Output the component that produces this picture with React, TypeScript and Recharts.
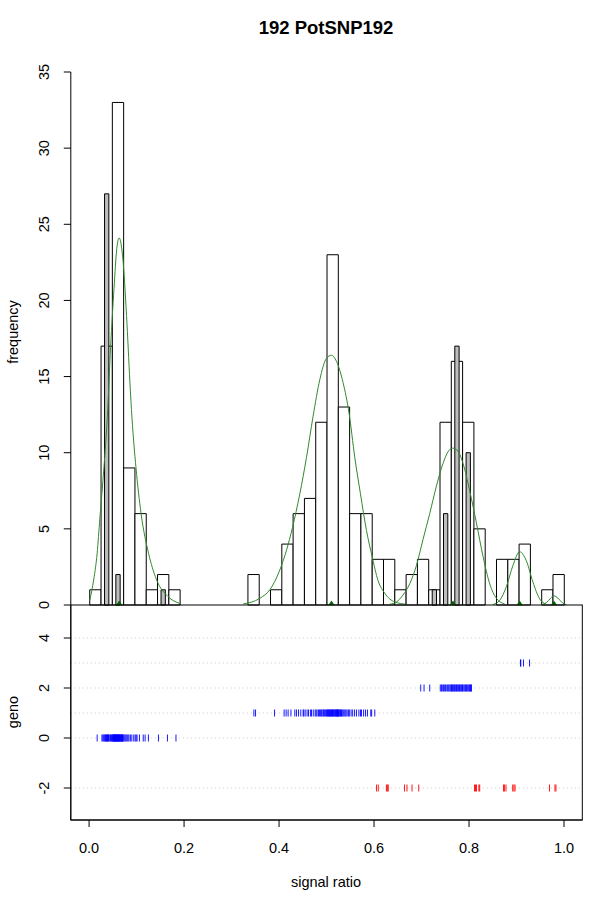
import React from "react";
import {
  ComposedChart,
  ScatterChart,
  Line,
  Scatter,
  XAxis,
  YAxis,
  ReferenceArea,
  ReferenceLine,
} from "recharts";

const FONT = "'Liberation Sans', Arial, Helvetica, sans-serif";

// histogram bins (signal ratio)
const BIN_ORIGIN = 0.0014;
const BIN_WIDTH = 0.02379;
const allCounts = [
  1, 17, 33, 9, 6, 1, 2, 1, 0, 0, 0, 0, 0, 0, 2, 0, 1, 4, 6, 7, 12, 23, 13, 6, 6, 3, 3, 1, 2, 3, 1, 12, 16,
  12, 5, 0, 3, 3, 4, 0, 1, 2,
];
const grayCounts = [
  0, 27, 2, 0, 0, 0, 1, 0, 0, 0, 0, 0, 0, 0, 0, 0, 0, 0, 0, 0, 0, 0, 0, 0, 0, 0, 0, 0, 0, 0, 1, 6, 17, 10,
  0, 0, 0, 0, 0, 0, 0, 0,
];

// fitted mixture components
const curveAX = [0.0014, 0.0099, 0.017, 0.0227, 0.0312, 0.0383, 0.0454, 0.0525, 0.0583, 0.0633, 0.0703, 0.0789, 0.086, 0.0903, 0.0988, 0.1095, 0.1252, 0.1415, 0.1664, 0.1912];
const curveAY = [0.3, 1.7, 3.4, 5.7, 9.0, 12.3, 17.0, 20.8, 23.4, 24.1, 23.0, 19.0, 14.6, 12.3, 9.0, 6.0, 3.4, 1.7, 0.55, 0.1];
const curveBX = [0.3245, 0.3596, 0.3806, 0.4016, 0.4157, 0.4284, 0.4437, 0.4578, 0.4717, 0.4858, 0.4999, 0.5104, 0.5209, 0.5348, 0.5474, 0.5594, 0.5714, 0.584, 0.5958, 0.6085, 0.6226, 0.6436, 0.6682];
const curveBY = [0.07, 0.44, 1.0, 2.3, 3.6, 5.1, 7.3, 9.7, 12.4, 14.8, 16.2, 16.4, 16.0, 14.6, 12.6, 9.7, 7.3, 4.9, 3.2, 1.6, 0.77, 0.2, 0.05];
const curveCX = [0.633, 0.6472, 0.6611, 0.6752, 0.6893, 0.7031, 0.7172, 0.7313, 0.7452, 0.7593, 0.7663, 0.7768, 0.7873, 0.8014, 0.8155, 0.8294, 0.8435, 0.8576, 0.875];
const curveCY = [0.05, 0.2, 0.66, 1.4, 2.6, 4.3, 6.0, 7.8, 9.3, 10.2, 10.3, 10.1, 9.3, 7.5, 5.4, 3.2, 1.4, 0.44, 0.07];
const curveDX = [0.8504, 0.8645, 0.8786, 0.8925, 0.9066, 0.9207, 0.9346, 0.9487, 0.9628];
const curveDY = [0.03, 0.3, 1.2, 2.6, 3.5, 2.9, 1.5, 0.4, 0.05];
const curveEX = [0.9522, 0.9628, 0.9718, 0.9788, 0.9872, 0.9964, 1.0048];
const curveEY = [0.02, 0.15, 0.45, 0.6, 0.45, 0.15, 0.02];
const componentMeans = [0.0633, 0.5104, 0.7663, 0.9066, 0.9788];

// genotype assignments (signal ratio per sample)
const geno0 = [
  0.017, 0.027, 0.029, 0.031, 0.032, 0.034, 0.035, 0.036, 0.037, 0.038, 0.039, 0.04, 0.041, 0.042, 0.044,
  0.045, 0.047, 0.048, 0.0495, 0.05, 0.051, 0.0515, 0.052, 0.053, 0.0535, 0.054, 0.055, 0.0555, 0.056,
  0.057, 0.0575, 0.058, 0.059, 0.0595, 0.06, 0.061, 0.0615, 0.062, 0.063, 0.064, 0.0645, 0.065, 0.066,
  0.067, 0.0675, 0.068, 0.069, 0.07, 0.0705, 0.071, 0.072, 0.074, 0.076, 0.078, 0.08, 0.082, 0.084, 0.087,
  0.09, 0.094, 0.097, 0.099, 0.101, 0.106, 0.114, 0.118, 0.125, 0.146, 0.165, 0.183,
];
const geno1 = [
  0.347, 0.3505, 0.3905, 0.4107, 0.4149, 0.4191, 0.425, 0.4332, 0.4368, 0.441, 0.4458, 0.4507, 0.452,
  0.455, 0.459, 0.462, 0.466, 0.4683, 0.472, 0.476, 0.478, 0.48, 0.483, 0.485, 0.487, 0.489, 0.4905,
  0.4928, 0.494, 0.496, 0.498, 0.5, 0.5015, 0.5025, 0.5035, 0.5045, 0.506, 0.507, 0.508, 0.509, 0.5105,
  0.5115, 0.5125, 0.514, 0.515, 0.516, 0.5175, 0.5185, 0.5195, 0.521, 0.522, 0.5225, 0.5235, 0.5242,
  0.5247, 0.526, 0.5275, 0.529, 0.53, 0.5315, 0.533, 0.535, 0.537, 0.539, 0.541, 0.5433, 0.546, 0.548,
  0.5517, 0.555, 0.559, 0.563, 0.568, 0.5714, 0.5735, 0.578, 0.582, 0.5861, 0.5931, 0.595, 0.6015,
];
const geno2 = [
  0.6983, 0.7053, 0.7172, 0.7395, 0.7418, 0.7436, 0.7461, 0.7479, 0.7502, 0.7518, 0.7544, 0.7563, 0.7581,
  0.7604, 0.7622, 0.7633, 0.7648, 0.7661, 0.7679, 0.7692, 0.7707, 0.7724, 0.7738, 0.7751, 0.7769, 0.7784,
  0.7798, 0.7815, 0.7832, 0.7847, 0.7861, 0.7872, 0.7893, 0.7911, 0.7928, 0.7946, 0.7962, 0.7981, 0.7998,
  0.8013, 0.8029, 0.8041, 0.805,
];
const geno3 = [0.9083, 0.909, 0.9146, 0.9274];
const genoUnassigned = [
  0.6053, 0.6089, 0.626, 0.628, 0.63, 0.6642, 0.6693, 0.68, 0.6941, 0.8115, 0.8136, 0.8157, 0.8207,
  0.8225, 0.8727, 0.8745, 0.8778, 0.8919, 0.8945, 0.8969, 0.9695, 0.9809, 0.983,
];

const freqTicks = [0, 5, 10, 15, 20, 25, 30, 35];
const genoTicks = [-2, 0, 2, 4];
const genoGridRows = [4, 3, 2, 1, 0, -2];
const ratioTicks = [0, 0.2, 0.4, 0.6, 0.8, 1.0];

const X_DOMAIN: [number, number] = [-0.0385, 1.0385];

const toPts = (xs: number[], ys: number[]) => xs.map((x, i) => ({ x, y: ys[i] }));
const curves = [
  toPts(curveAX, curveAY),
  toPts(curveBX, curveBY),
  toPts(curveCX, curveCY),
  toPts(curveDX, curveDY),
  toPts(curveEX, curveEY),
];

function RotTick(props: any) {
  const { x, y, payload } = props;
  const tx = x - 13;
  return (
    <text
      x={tx}
      y={y}
      transform={`rotate(-90 ${tx} ${y})`}
      textAnchor="middle"
      fontSize={14.5}
      fontFamily={FONT}
      fill="#000"
    >
      {String(payload.value)}
    </text>
  );
}

function Tri(props: any) {
  const { cx, cy } = props;
  return <polygon points={`${cx - 3},${cy} ${cx + 3},${cy} ${cx},${cy - 4.5}`} fill="#006400" />;
}

const makeTick = (color: string) => (props: any) => {
  const { cx, cy } = props;
  return <line x1={cx} x2={cx} y1={cy - 3.5} y2={cy + 3.5} stroke={color} strokeWidth={0.9} />;
};
const BlueTick = makeTick("#0000ff");
const RedTick = makeTick("#ff0000");

export default function App() {
  const grayFrac = 0.38;
  return (
    <div style={{ position: "absolute", left: 0, top: 0, width: 600, height: 909, background: "#fff" }}>
      <div style={{ position: "absolute", left: 0, top: 605 }}>
        <ScatterChart width={600} height={304} margin={{ top: 0, right: 17.7, bottom: 0, left: 10.8 }}>
          <XAxis
            type="number"
            dataKey="x"
            domain={X_DOMAIN}
            allowDataOverflow
            ticks={ratioTicks}
            interval={0}
            height={89}
            tickSize={7}
            tickMargin={16}
            tickFormatter={(v: number) => v.toFixed(1)}
            axisLine={{ stroke: "#000" }}
            tickLine={{ stroke: "#000" }}
            tick={{ fontSize: 14.5, fontFamily: FONT, fill: "#000" }}
          />
          <YAxis
            type="number"
            dataKey="y"
            domain={[-3.28, 5.32]}
            allowDataOverflow
            ticks={genoTicks}
            interval={0}
            width={60}
            tickSize={7}
            axisLine={{ stroke: "#000" }}
            tickLine={{ stroke: "#000" }}
            tick={<RotTick />}
          />
          {genoGridRows.map((r) => (
            <ReferenceLine key={r} y={r} stroke="#c8c8c8" strokeDasharray="1 3" />
          ))}
          <Scatter data={geno0.map((x) => ({ x, y: 0 }))} shape={BlueTick} isAnimationActive={false} />
          <Scatter data={geno1.map((x) => ({ x, y: 1 }))} shape={BlueTick} isAnimationActive={false} />
          <Scatter data={geno2.map((x) => ({ x, y: 2 }))} shape={BlueTick} isAnimationActive={false} />
          <Scatter data={geno3.map((x) => ({ x, y: 3 }))} shape={BlueTick} isAnimationActive={false} />
          <Scatter data={genoUnassigned.map((x) => ({ x, y: -2 }))} shape={RedTick} isAnimationActive={false} />
        </ScatterChart>
      </div>
      <div style={{ position: "absolute", left: 0, top: 0 }}>
        <ComposedChart width={600} height={625} margin={{ top: 72, right: 17.7, bottom: 20, left: 10.8 }}>
          <XAxis type="number" dataKey="x" domain={X_DOMAIN} allowDataOverflow hide />
          <YAxis
            type="number"
            dataKey="y"
            domain={[0, 35]}
            ticks={freqTicks}
            interval={0}
            width={60}
            tickSize={7}
            allowDataOverflow
            axisLine={{ stroke: "#000" }}
            tickLine={{ stroke: "#000" }}
            tick={<RotTick />}
          />
          {allCounts.map((c, i) =>
            c > 0 ? (
              <ReferenceArea
                key={`w${i}`}
                x1={BIN_ORIGIN + i * BIN_WIDTH}
                x2={BIN_ORIGIN + (i + 1) * BIN_WIDTH}
                y1={0}
                y2={c}
                fill="#fff"
                fillOpacity={1}
                stroke="#000"
                strokeWidth={1}
              />
            ) : null
          )}
          {grayCounts.map((c, i) =>
            c > 0 ? (
              <ReferenceArea
                key={`g${i}`}
                x1={BIN_ORIGIN + (i + 0.5 - grayFrac / 2) * BIN_WIDTH}
                x2={BIN_ORIGIN + (i + 0.5 + grayFrac / 2) * BIN_WIDTH}
                y1={0}
                y2={c}
                fill="#bebebe"
                fillOpacity={1}
                stroke="#000"
                strokeWidth={1}
              />
            ) : null
          )}
          {curves.map((pts, i) => (
            <Line
              key={`c${i}`}
              data={pts}
              dataKey="y"
              type="monotone"
              dot={false}
              stroke="#2f8a2f"
              strokeWidth={1}
              isAnimationActive={false}
            />
          ))}
          <Scatter
            data={componentMeans.map((x) => ({ x, y: 0 }))}
            dataKey="y"
            shape={<Tri />}
            isAnimationActive={false}
          />
        </ComposedChart>
      </div>
      <svg
        width={600}
        height={909}
        style={{ position: "absolute", left: 0, top: 0, pointerEvents: "none" }}
        fontFamily={FONT}
      >
        <rect x={70.8} y={605} width={511.5} height={215} fill="none" stroke="#000" strokeWidth={1} />
        <text x={326} y={34} textAnchor="middle" fontSize={18.5} fontWeight="bold" fill="#000">
          192 PotSNP192
        </text>
        <text x={326} y={887} textAnchor="middle" fontSize={14.5} fill="#000">
          signal ratio
        </text>
        <text x={18} y={332} transform="rotate(-90 18 332)" textAnchor="middle" fontSize={14.5} fill="#000">
          frequency
        </text>
        <text x={18} y={712} transform="rotate(-90 18 712)" textAnchor="middle" fontSize={14.5} fill="#000">
          geno
        </text>
      </svg>
    </div>
  );
}
